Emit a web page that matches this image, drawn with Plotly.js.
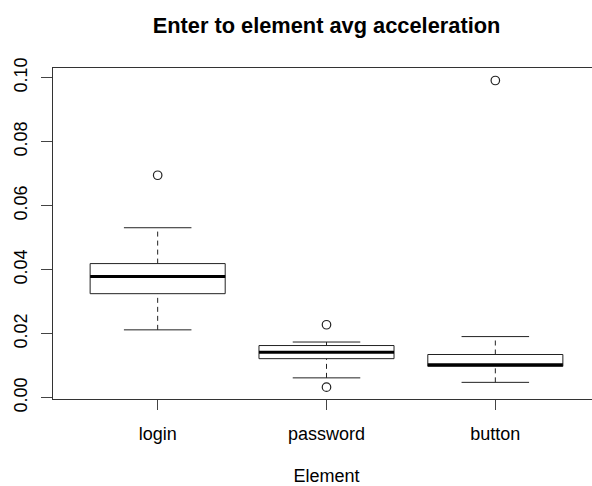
<!DOCTYPE html>
<html>
<head>
<meta charset="utf-8">
<script src="https://cdn.plot.ly/plotly-3.0.1.min.js"></script>
<style>
html, body { margin: 0; padding: 0; overflow: hidden; background: #fff; }
#chart { width: 600px; height: 486px; }
</style>
</head>
<body>
<div id="chart"></div>
<script>
// Data
const categories = ['login', 'password', 'button'];
const lowerWhisker = [0.0212, 0.0062, 0.0048];
const q1 = [0.0325, 0.0122, 0.0098];
const median = [0.0379, 0.0142, 0.0103];
const q3 = [0.0419, 0.0163, 0.0135];
const upperWhisker = [0.0531, 0.0174, 0.0191];
const outliersLogin = [0.0695];
const outliersPassword = [0.0228, 0.0033];
const outliersButton = [0.0991];
const yTicks = [0, 0.02, 0.04, 0.06, 0.08, 0.10];

const outlierSets = [outliersLogin, outliersPassword, outliersButton];
const halfBox = 0.4, halfCap = 0.2;

const wx = [], wy = [], cx = [], cy = [], bx = [], by = [], mx = [], my = [], ox = [], oy = [];
categories.forEach((c, k) => {
  const p = k + 1;
  wx.push(p, p, null, p, p, null);
  wy.push(lowerWhisker[k], q1[k], null, q3[k], upperWhisker[k], null);
  cx.push(p - halfCap, p + halfCap, null, p - halfCap, p + halfCap, null);
  cy.push(lowerWhisker[k], lowerWhisker[k], null, upperWhisker[k], upperWhisker[k], null);
  bx.push(p - halfBox, p + halfBox, p + halfBox, p - halfBox, p - halfBox, null);
  by.push(q1[k], q1[k], q3[k], q3[k], q1[k], null);
  mx.push(p - halfBox, p + halfBox, null);
  my.push(median[k], median[k], null);
  outlierSets[k].forEach(v => { ox.push(p); oy.push(v); });
});

const lineCol = '#222';
const traces = [
  {x: wx, y: wy, mode: 'lines', line: {color: lineCol, width: 1, dash: '5px,4px'}, hoverinfo: 'skip'},
  {x: cx, y: cy, mode: 'lines', line: {color: lineCol, width: 1}, hoverinfo: 'skip'},
  {x: bx, y: by, mode: 'lines', line: {color: lineCol, width: 1}, hoverinfo: 'skip'},
  {x: mx, y: my, mode: 'lines', line: {color: '#000', width: 3}, hoverinfo: 'skip'},
  {x: ox, y: oy, mode: 'markers', marker: {symbol: 'circle-open', size: 8.5, color: lineCol, line: {width: 1.2}}, hoverinfo: 'skip'}
];

const font = {family: '"Liberation Sans", Arial, Helvetica, sans-serif', color: '#000'};

const layout = {
  width: 600, height: 486,
  margin: {l: 53, r: 0, t: 68, b: 87},
  paper_bgcolor: '#fff', plot_bgcolor: '#fff',
  showlegend: false,
  font: Object.assign({size: 18}, font),
  title: {
    text: 'Enter to element avg acceleration',
    font: Object.assign({size: 21.8, weight: 'bold'}, font),
    x: 0.5, xref: 'paper', xanchor: 'center',
    y: 1 - 25 / 486, yref: 'container', yanchor: 'middle'
  },
  xaxis: {
    range: [0.38, 3.62],
    tickvals: categories.map((c, k) => k + 1),
    ticktext: categories,
    ticks: 'outside', ticklen: 10, tickwidth: 1, tickcolor: '#444',
    ticklabelstandoff: 8,
    showline: true, mirror: true, linecolor: '#333', linewidth: 1,
    showgrid: false, zeroline: false,
    tickfont: Object.assign({size: 18}, font),
    title: {text: 'Element', font: Object.assign({size: 18}, font), standoff: 27}
  },
  yaxis: {
    range: [-0.0004, 0.103],
    tickvals: yTicks,
    ticktext: yTicks.map(v => v.toFixed(2)),
    tickangle: -90,
    ticks: 'outside', ticklen: 11, tickwidth: 1, tickcolor: '#444',
    ticklabelstandoff: 7,
    showline: true, mirror: true, linecolor: '#333', linewidth: 1,
    showgrid: false, zeroline: false,
    tickfont: Object.assign({size: 18}, font)
  }
};

Plotly.newPlot('chart', traces, layout, {staticPlot: true, displayModeBar: false});
</script>
</body>
</html>
